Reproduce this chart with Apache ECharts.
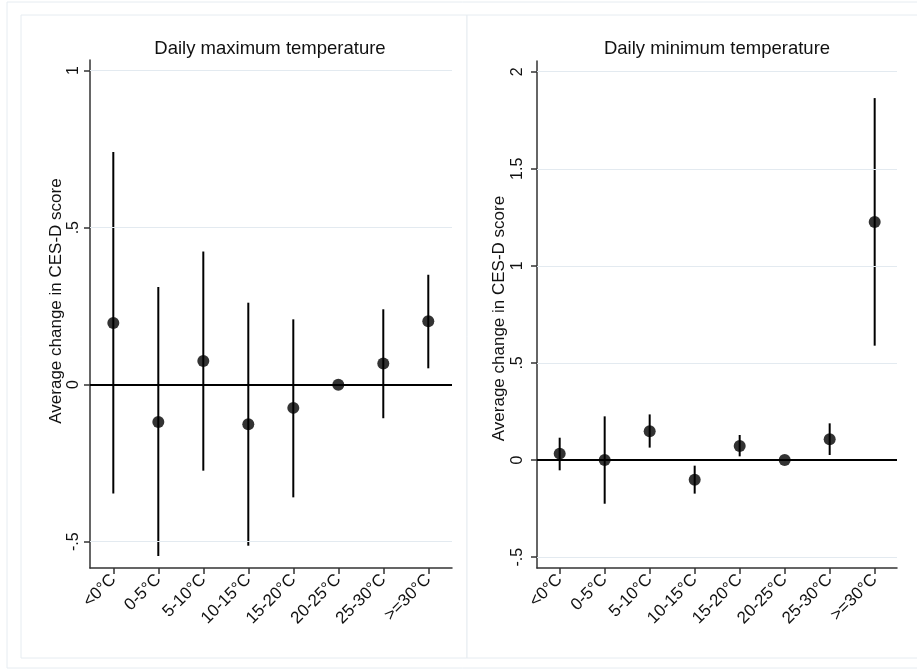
<!DOCTYPE html>
<html>
<head>
<meta charset="utf-8">
<script src="https://cdn.jsdelivr.net/npm/echarts@6/dist/echarts.min.js"></script>
<style>
  html, body { margin: 0; padding: 0; background: #ffffff; }
  #chart { width: 917px; height: 670px; }
</style>
</head>
<body>
<div id="chart"></div>
<script>
// Temperature bins shared by both panels
const categories = ['<0°C', '0-5°C', '5-10°C', '10-15°C', '15-20°C', '20-25°C', '25-30°C', '>=30°C'];

// Daily maximum temperature: point estimates and 95% CI bounds (20-25°C is the reference bin)
const maxEstimate = [0.196, -0.119, 0.075, -0.126, -0.074, 0, 0.067, 0.202];
const maxLower = [-0.347, -0.546, -0.274, -0.513, -0.359, null, -0.107, 0.052];
const maxUpper = [0.741, 0.311, 0.424, 0.261, 0.208, null, 0.240, 0.350];

// Daily minimum temperature
const minEstimate = [0.033, 0.0, 0.148, -0.101, 0.072, 0, 0.107, 1.226];
const minLower = [-0.053, -0.225, 0.064, -0.173, 0.019, null, 0.026, 0.589];
const minUpper = [0.115, 0.225, 0.235, -0.029, 0.129, null, 0.189, 1.864];

// Y-axis tick values for each panel
const maxTicks = [-0.5, 0, 0.5, 1];
const minTicks = [-0.5, 0, 0.5, 1, 1.5, 2];

const panelTitles = ['Daily maximum temperature', 'Daily minimum temperature'];
const yTitle = 'Average change in CES-D score';

const FONT = '"Liberation Sans", Arial, Helvetica, sans-serif';
const INK = '#111111';
const AXIS = '#333333';
const GRID = '#e3eaf0';
const FRAME = '#e6ecf1';

const catPositions = categories.map((c, i) => i + 1);

// Stata-style numbers: ".5", "-.5", "1.5"
function stataNum(v) {
  if (v === 0) return '0';
  return String(v).replace(/^(-?)0\./, '$1.');
}

function xAxisFor(gridIndex, min, max) {
  return {
    type: 'value', gridIndex, min, max,
    splitLine: { show: false },
    axisLine: { show: true, onZero: false, lineStyle: { color: AXIS, width: 1.5 } },
    axisTick: { show: true, length: 6, lineStyle: { color: AXIS, width: 1.5 }, customValues: catPositions },
    axisLabel: {
      customValues: catPositions,
      rotate: 45, margin: 9,
      fontFamily: FONT, fontSize: 17, color: INK,
      formatter: v => categories[Math.round(v) - 1] || ''
    }
  };
}

function yAxisFor(gridIndex, min, max, ticks, labelMargin, gap, namePad) {
  return {
    type: 'value', gridIndex, min, max,
    splitLine: { show: false },
    axisLine: { show: true, onZero: false, lineStyle: { color: AXIS, width: 1.5 } },
    axisTick: { show: true, length: 6, lineStyle: { color: AXIS, width: 1.5 }, customValues: ticks },
    axisLabel: {
      customValues: ticks,
      rotate: 90, margin: labelMargin,
      fontFamily: FONT, fontSize: 16, color: INK,
      formatter: v => stataNum(v)
    },
    name: yTitle,
    nameLocation: 'middle',
    nameGap: gap,
    nameMoveOverlap: false,
    nameTextStyle: { fontFamily: FONT, fontSize: 17, color: INK, padding: namePad }
  };
}

function ciSeries(idx, lower, upper, ticks) {
  const data = [];
  categories.forEach((c, i) => {
    if (lower[i] !== null && upper[i] !== null) data.push([i + 1, lower[i], upper[i]]);
  });
  const lines = ticks.map(t => t === 0
    ? { yAxis: 0, lineStyle: { color: '#000000', width: 2, type: 'solid' } }
    : { yAxis: t });
  return {
    type: 'custom',
    xAxisIndex: idx, yAxisIndex: idx,
    z: 2,
    silent: true,
    data,
    renderItem: (params, api) => {
      const x = api.value(0);
      const p1 = api.coord([x, api.value(1)]);
      const p2 = api.coord([x, api.value(2)]);
      return {
        type: 'line',
        shape: { x1: p1[0], y1: p1[1], x2: p2[0], y2: p2[1] },
        style: { stroke: '#000000', lineWidth: 2 }
      };
    },
    markLine: {
      silent: true, symbol: 'none', animation: false,
      label: { show: false },
      lineStyle: { color: GRID, width: 1, type: 'solid' },
      data: lines
    }
  };
}

function pointSeries(idx, est) {
  return {
    type: 'scatter',
    xAxisIndex: idx, yAxisIndex: idx,
    z: 4,
    symbol: 'circle', symbolSize: 12,
    itemStyle: { color: '#000000' },
    data: est.map((v, i) => [i + 1, v])
  };
}

const chart = echarts.init(document.getElementById('chart'), null, { renderer: 'canvas' });

chart.setOption({
  animation: false,
  backgroundColor: '#ffffff',
  graphic: [
    { type: 'rect', shape: { x: 7, y: 2, width: 920, height: 666 }, style: { fill: 'none', stroke: FRAME, lineWidth: 1 }, silent: true, z: -10 },
    { type: 'rect', shape: { x: 21, y: 15, width: 446, height: 643 }, style: { fill: '#ffffff', stroke: FRAME, lineWidth: 1 }, silent: true, z: -9 },
    { type: 'rect', shape: { x: 467, y: 15, width: 460, height: 643 }, style: { fill: '#ffffff', stroke: FRAME, lineWidth: 1 }, silent: true, z: -9 }
  ],
  title: [
    { text: panelTitles[0], left: 265, top: 34, textAlign: 'center',
      textStyle: { fontFamily: FONT, fontSize: 18.5, fontWeight: 'normal', color: INK } },
    { text: panelTitles[1], left: 712, top: 34, textAlign: 'center',
      textStyle: { fontFamily: FONT, fontSize: 18.5, fontWeight: 'normal', color: INK } }
  ],
  grid: [
    { left: 90, top: 60, width: 362, height: 508 },
    { left: 537, top: 61, width: 360, height: 507 }
  ],
  xAxis: [
    xAxisFor(0, 0.482, 8.527),
    xAxisFor(1, 0.496, 8.496)
  ],
  yAxis: [
    yAxisFor(0, -0.584, 1.034, maxTicks, 8, 25, [0, 0, 0, 26]),
    yAxisFor(1, -0.556, 2.055, minTicks, 11, 29, [0, 8, 0, 0])
  ],
  series: [
    ciSeries(0, maxLower, maxUpper, maxTicks),
    pointSeries(0, maxEstimate),
    ciSeries(1, minLower, minUpper, minTicks),
    pointSeries(1, minEstimate)
  ]
});
</script>
</body>
</html>
